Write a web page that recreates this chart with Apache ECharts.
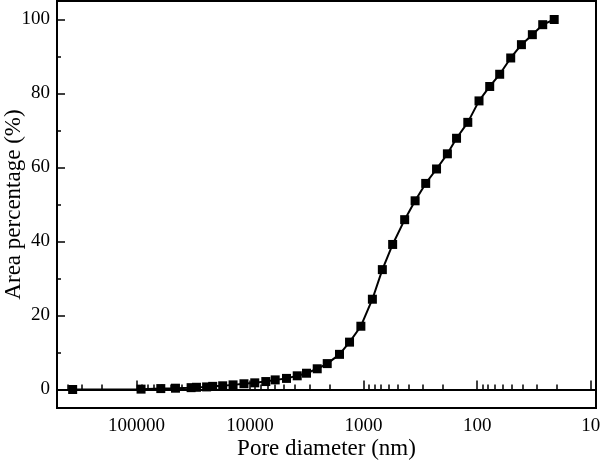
<!DOCTYPE html>
<html>
<head>
<meta charset="utf-8">
<script src="https://cdn.jsdelivr.net/npm/echarts@6/dist/echarts.min.js"></script>
<style>html,body{margin:0;padding:0;background:#fff;}#c{width:600px;height:462px;}</style>
</head>
<body>
<div id="c"></div>
<script>
// Pore diameter (nm) and cumulative area percentage (%)
var poreDiameter = [364000, 91000, 61000, 45300, 33000, 29600, 24100, 21300, 17400, 14100,
  11300, 9080, 7260, 6000, 4770, 3840, 3180, 2560, 2090, 1630,
  1330, 1057, 837, 684, 555, 435, 352, 284, 228, 183,
  152, 121, 96.4, 77.6, 63.4, 50.7, 40.8, 32.7, 26.5, 21.0];
var areaPercent = [0, 0.1, 0.25, 0.35, 0.5, 0.6, 0.7, 0.85, 1.0, 1.25,
  1.55, 1.8, 2.15, 2.6, 3.0, 3.7, 4.4, 5.6, 7.0, 9.5,
  12.8, 17.1, 24.4, 32.4, 39.2, 45.9, 51.0, 55.7, 59.6, 63.7,
  67.9, 72.2, 78.0, 81.9, 85.2, 89.6, 93.2, 95.9, 98.6, 100];
var xMajorTicks = [100000, 10000, 1000, 100, 10];
var xMinorTicks = [400000, 300000, 200000,
  90000, 80000, 70000, 60000, 50000, 40000, 30000, 20000,
  9000, 8000, 7000, 6000, 5000, 4000, 3000, 2000,
  900, 800, 700, 600, 500, 400, 300, 200,
  90, 80, 70, 60, 50, 40, 30, 20];
var yMajorTicks = [0, 20, 40, 60, 80, 100];
var yMinorTicks = [10, 30, 50, 70, 90];

var FONT = 'Liberation Serif';
var xMin = 9, xMax = 500000, yMin = -5, yMax = 105;
var data = poreDiameter.map(function (d, i) { return [d, areaPercent[i]]; });

var chart = echarts.init(document.getElementById('c'), null, {renderer: 'canvas', width: 600, height: 462});
chart.setOption({
  animation: false,
  backgroundColor: '#fff',
  grid: {left: 57, right: 4, top: 1, bottom: 54, containLabel: false, outerBoundsMode: 'none',
    show: true, borderColor: '#000', borderWidth: 2, backgroundColor: 'transparent'},
  xAxis: [{
    type: 'log', inverse: true, min: xMin, max: xMax, logBase: 10,
    name: 'Pore diameter (nm)', nameLocation: 'middle', nameGap: 29, nameMoveOverlap: false,
    nameTextStyle: {fontFamily: FONT, fontSize: 23, color: '#000'},
    axisLine: {show: true, lineStyle: {color: '#000', width: 2}},
    axisTick: {show: true, inside: true, length: 9, lineStyle: {color: '#000', width: 1.5}, customValues: xMajorTicks},
    axisLabel: {show: true, fontFamily: FONT, fontSize: 19, color: '#000', margin: 9, customValues: xMajorTicks,
      formatter: function (v) { return String(Math.round(v)); }},
    splitLine: {show: false}, minorTick: {show: false}
  }, {
    type: 'log', inverse: true, min: xMin, max: xMax, logBase: 10, position: 'bottom',
    axisLine: {show: false},
    axisTick: {show: true, inside: true, length: 5, lineStyle: {color: '#000', width: 1.5}, customValues: xMinorTicks},
    axisLabel: {show: false},
    splitLine: {show: false}
  }],
  yAxis: [{
    type: 'value', min: yMin, max: yMax,
    name: 'Area percentage (%)', nameLocation: 'middle', nameGap: 32, nameRotate: 90, nameMoveOverlap: false,
    nameTextStyle: {fontFamily: FONT, fontSize: 23, color: '#000'},
    axisLine: {show: true, lineStyle: {color: '#000', width: 2}},
    axisTick: {show: true, inside: true, length: 8, lineStyle: {color: '#000', width: 1.5}, customValues: yMajorTicks},
    axisLabel: {show: true, fontFamily: FONT, fontSize: 19, color: '#000', margin: 7, customValues: yMajorTicks},
    splitLine: {show: false}
  }, {
    type: 'value', min: yMin, max: yMax, position: 'left',
    axisLine: {show: false},
    axisTick: {show: true, inside: true, length: 4, lineStyle: {color: '#000', width: 1.5}, customValues: yMinorTicks},
    axisLabel: {show: false},
    splitLine: {show: false}
  }],
  series: [{
    type: 'line', xAxisIndex: 0, yAxisIndex: 0, data: data,
    symbol: 'rect', symbolSize: 9, showSymbol: true,
    itemStyle: {color: '#000'},
    lineStyle: {color: '#000', width: 2}
  }]
});
</script>
</body>
</html>
